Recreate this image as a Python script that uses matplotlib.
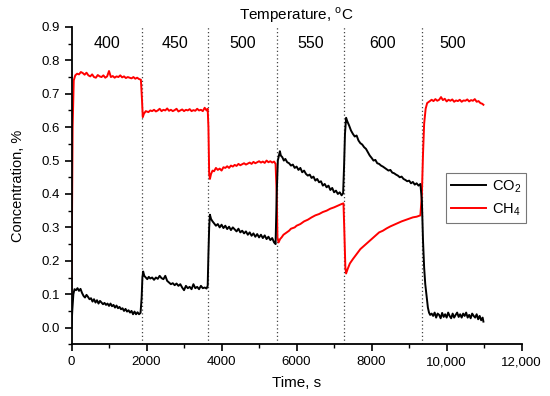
import matplotlib.pyplot as plt
from matplotlib.ticker import MultipleLocator, FixedLocator, FixedFormatter

plt.rcParams['font.family'] = ['Liberation Sans', 'DejaVu Sans']
plt.rcParams['mathtext.fontset'] = 'custom'
plt.rcParams['mathtext.rm'] = 'Liberation Sans'

# CH4 concentration, %
ch4_t = [0, 30, 60, 100, 150, 200, 250, 300, 350, 400, 450, 500, 550, 600, 650, 700, 750, 800, 850, 900,
         950, 1000, 1050, 1100, 1150, 1200, 1250, 1300, 1350, 1400, 1450, 1500, 1550, 1600, 1650, 1700,
         1750, 1800, 1850,
         1880, 1900, 1930, 1980, 2050, 2100, 2150, 2200, 2250, 2300, 2350, 2400, 2450, 2500, 2550, 2600,
         2650, 2700, 2750, 2800, 2850, 2900, 2950, 3000, 3050, 3100, 3150, 3200, 3250, 3300, 3350, 3400,
         3450, 3500, 3550, 3600, 3630,
         3650, 3670, 3690, 3720, 3760, 3800, 3850, 3900, 3950, 4000, 4050, 4100, 4150, 4200, 4250, 4300,
         4350, 4400, 4450, 4500, 4550, 4600, 4650, 4700, 4750, 4800, 4850, 4900, 4950, 5000, 5050, 5100,
         5150, 5200, 5250, 5300, 5350, 5400, 5440,
         5470, 5490, 5520, 5560, 5600, 5650, 5700, 5750, 5800, 5850, 5900, 5950, 6000, 6100, 6200, 6300,
         6400, 6500, 6600, 6700, 6800, 6900, 7000, 7100, 7200, 7250,
         7270, 7300, 7320, 7360, 7420, 7500, 7600, 7700, 7800, 7900, 8000, 8100, 8200, 8300, 8400, 8500,
         8600, 8700, 8800, 8900, 9000, 9100, 9200, 9300,
         9340, 9370, 9400, 9440, 9480, 9550, 9600, 9650, 9700, 9750, 9800, 9850, 9900, 9950, 10000, 10050,
         10100, 10150, 10200, 10250, 10300, 10350, 10400, 10450, 10500, 10550, 10600, 10650, 10700, 10750,
         10800, 10850, 10900, 10950, 10980]
ch4_c = [0.10, 0.60, 0.74, 0.755, 0.760, 0.758, 0.765, 0.762, 0.757, 0.763, 0.755, 0.752, 0.758, 0.750,
         0.748, 0.756, 0.752, 0.750, 0.755, 0.748, 0.752, 0.768, 0.750, 0.753, 0.748, 0.752, 0.750, 0.755,
         0.749, 0.752, 0.747, 0.750, 0.748, 0.746, 0.750, 0.745, 0.748, 0.744, 0.742,
         0.68, 0.630, 0.640, 0.648, 0.645, 0.650, 0.648, 0.652, 0.647, 0.650, 0.655, 0.648, 0.652, 0.650,
         0.656, 0.649, 0.652, 0.648, 0.651, 0.655, 0.647, 0.650, 0.653, 0.648, 0.652, 0.650, 0.654, 0.648,
         0.651, 0.649, 0.655, 0.650, 0.652, 0.648, 0.658, 0.650, 0.655,
         0.60, 0.46, 0.445, 0.460, 0.470, 0.468, 0.478, 0.472, 0.476, 0.470, 0.480, 0.478, 0.483, 0.478,
         0.485, 0.482, 0.487, 0.484, 0.490, 0.486, 0.489, 0.492, 0.488, 0.491, 0.494, 0.490, 0.496, 0.492,
         0.495, 0.498, 0.494, 0.497, 0.493, 0.500, 0.495, 0.498, 0.494, 0.497, 0.490,
         0.40, 0.27, 0.255, 0.265, 0.270, 0.278, 0.282, 0.286, 0.290, 0.296, 0.298, 0.300, 0.305, 0.310,
         0.318, 0.323, 0.330, 0.336, 0.340, 0.346, 0.350, 0.356, 0.360, 0.365, 0.370, 0.372,
         0.30, 0.18, 0.162, 0.175, 0.192, 0.205, 0.220, 0.235, 0.245, 0.255, 0.265, 0.275, 0.285, 0.290,
         0.297, 0.303, 0.308, 0.313, 0.318, 0.322, 0.326, 0.330, 0.332, 0.336,
         0.40, 0.52, 0.61, 0.655, 0.672, 0.678, 0.682, 0.678, 0.684, 0.679, 0.682, 0.690, 0.681, 0.685,
         0.677, 0.682, 0.679, 0.683, 0.676, 0.680, 0.678, 0.682, 0.676, 0.680, 0.679, 0.683, 0.677, 0.681,
         0.679, 0.684, 0.676, 0.678, 0.672, 0.670, 0.667]

# CO2 concentration, %
co2_t = [0, 20, 50, 80, 120, 160, 200, 240, 280, 320, 360, 400, 440, 480, 520, 560, 600, 640, 680, 720,
         760, 800, 840, 880, 920, 960, 1000, 1040, 1080, 1120, 1160, 1200, 1240, 1280, 1320, 1360, 1400,
         1440, 1480, 1520, 1560, 1600, 1640, 1680, 1720, 1760, 1800, 1840,
         1870, 1890, 1910, 1940, 1980, 2020, 2060, 2100, 2150, 2200, 2250, 2300, 2350, 2400, 2450, 2500,
         2550, 2600, 2650, 2700, 2750, 2800, 2850, 2900, 2950, 3000, 3050, 3100, 3150, 3200, 3250, 3300,
         3350, 3400, 3450, 3500, 3550, 3600, 3630,
         3650, 3670, 3690, 3720, 3760, 3800, 3850, 3900, 3950, 4000, 4050, 4100, 4150, 4200, 4250, 4300,
         4350, 4400, 4450, 4500, 4550, 4600, 4650, 4700, 4750, 4800, 4850, 4900, 4950, 5000, 5050, 5100,
         5150, 5200, 5250, 5300, 5350, 5400, 5440,
         5470, 5500, 5530, 5555, 5580, 5620, 5660, 5700, 5750, 5800, 5850, 5900, 5950, 6000, 6050, 6100,
         6150, 6200, 6250, 6300, 6350, 6400, 6450, 6500, 6550, 6600, 6650, 6700, 6750, 6800, 6850, 6900,
         6950, 7000, 7050, 7100, 7150, 7200, 7240,
         7265, 7290, 7320, 7350, 7400, 7450, 7500, 7550, 7600, 7650, 7700, 7750, 7800, 7850, 7900, 7950,
         8000, 8050, 8100, 8150, 8200, 8250, 8300, 8350, 8400, 8450, 8500, 8550, 8600, 8650, 8700, 8750,
         8800, 8850, 8900, 8950, 9000, 9050, 9100, 9150, 9200, 9250, 9300,
         9340, 9370, 9400, 9430, 9460, 9500, 9530, 9560, 9600, 9640, 9680, 9720, 9760, 9800, 9840, 9880,
         9920, 9960, 10000, 10040, 10080, 10120, 10160, 10200, 10240, 10280, 10320, 10360, 10400, 10440,
         10480, 10520, 10560, 10600, 10640, 10680, 10720, 10760, 10800, 10840, 10880, 10920, 10960, 10980]
co2_c = [0.0, 0.05, 0.10, 0.115, 0.112, 0.118, 0.110, 0.116, 0.104, 0.095, 0.090, 0.098, 0.092, 0.085,
         0.088, 0.078, 0.085, 0.075, 0.082, 0.072, 0.080, 0.075, 0.070, 0.074, 0.068, 0.072, 0.065, 0.072,
         0.064, 0.068, 0.060, 0.066, 0.058, 0.062, 0.055, 0.058, 0.050, 0.056, 0.048, 0.052, 0.045, 0.050,
         0.040, 0.048, 0.040, 0.046, 0.040, 0.044,
         0.09, 0.15, 0.168, 0.155, 0.150, 0.145, 0.152, 0.147, 0.150, 0.143, 0.150, 0.146, 0.155, 0.148,
         0.145, 0.155, 0.140, 0.135, 0.130, 0.133, 0.127, 0.132, 0.125, 0.130, 0.120, 0.112, 0.125, 0.118,
         0.122, 0.115, 0.130, 0.118, 0.122, 0.115, 0.125, 0.118, 0.120, 0.117, 0.125,
         0.22, 0.30, 0.338, 0.325, 0.318, 0.312, 0.305, 0.310, 0.300, 0.308, 0.298, 0.305, 0.295, 0.302,
         0.292, 0.300, 0.294, 0.288, 0.296, 0.285, 0.290, 0.282, 0.288, 0.278, 0.285, 0.275, 0.282, 0.272,
         0.280, 0.270, 0.278, 0.268, 0.276, 0.265, 0.272, 0.262, 0.268, 0.255, 0.250,
         0.40, 0.50, 0.515, 0.528, 0.515, 0.510, 0.500, 0.505, 0.495, 0.492, 0.485, 0.488, 0.478, 0.482,
         0.472, 0.478, 0.465, 0.470, 0.460, 0.455, 0.458, 0.448, 0.452, 0.440, 0.445, 0.435, 0.438, 0.425,
         0.430, 0.420, 0.425, 0.412, 0.418, 0.405, 0.410, 0.400, 0.405, 0.396, 0.402,
         0.48, 0.58, 0.628, 0.618, 0.605, 0.590, 0.580, 0.572, 0.575, 0.560, 0.552, 0.548, 0.540, 0.535,
         0.525, 0.515, 0.508, 0.500, 0.502, 0.492, 0.490, 0.485, 0.482, 0.478, 0.474, 0.470, 0.472, 0.464,
         0.462, 0.458, 0.455, 0.450, 0.452, 0.445, 0.442, 0.438, 0.440, 0.432, 0.436, 0.428, 0.432, 0.425,
         0.430,
         0.38, 0.26, 0.18, 0.13, 0.10, 0.06, 0.045, 0.038, 0.042, 0.035, 0.045, 0.030, 0.042, 0.038, 0.028,
         0.044, 0.032, 0.040, 0.030, 0.045, 0.035, 0.028, 0.042, 0.030, 0.038, 0.045, 0.032, 0.040, 0.030,
         0.042, 0.035, 0.045, 0.030, 0.038, 0.028, 0.042, 0.035, 0.030, 0.040, 0.025, 0.035, 0.022, 0.030,
         0.018]

# temperature program
switch_times = [1867, 3643, 5467, 7261, 9333]
end_time = 11000
temperatures = ['400', '450', '500', '550', '600', '500']

x_ticks = [0, 2000, 4000, 6000, 8000, 10000, 12000]
x_tick_labels = ['0', '2000', '4000', '6000', '8000', '10,000', '12,000']

fig = plt.figure(figsize=(5.5, 3.96), dpi=100)
ax = fig.add_axes([0.130, 0.1305, 0.8185, 0.8015])

for st in switch_times:
    ax.axvline(st, color='#444444', linestyle=(0, (1, 2)), linewidth=0.9, zorder=1)

ax.plot(co2_t, co2_c, color='black', linewidth=1.4, label='CO$_2$', zorder=3)
ax.plot(ch4_t, ch4_c, color='red', linewidth=1.4, label='CH$_4$', zorder=2)

bounds = [0] + switch_times + [end_time]
for i, temp in enumerate(temperatures):
    ax.text((bounds[i] + bounds[i + 1]) / 2, 0.85, temp, ha='center', va='center', fontsize=11.5)

ax.set_xlim(0, 12000)
ax.set_ylim(-0.05, 0.9)
ax.xaxis.set_major_locator(FixedLocator(x_ticks))
ax.xaxis.set_major_formatter(FixedFormatter(x_tick_labels))
ax.xaxis.set_minor_locator(MultipleLocator(1000))
ax.yaxis.set_minor_locator(MultipleLocator(0.05))
ax.set_yticks([0.0, 0.1, 0.2, 0.3, 0.4, 0.5, 0.6, 0.7, 0.8, 0.9])
ax.set_yticklabels(['0.0', '0.1', '0.2', '0.3', '0.4', '0.5', '0.6', '0.7', '0.8', '0.9'])

ax.spines['top'].set_visible(False)
ax.spines['right'].set_visible(False)
ax.spines['left'].set_linewidth(1.3)
ax.spines['bottom'].set_linewidth(1.3)
ax.tick_params(which='major', direction='out', length=5, width=1.2, labelsize=9.5)
ax.tick_params(which='minor', direction='out', length=3, width=1.0)

ax.set_xlabel('Time, s', fontsize=11, labelpad=6)
ax.set_ylabel('Concentration, %', fontsize=10.5, labelpad=12)
ax.set_title(r'Temperature, $^{\mathregular{o}}$C', fontsize=11, pad=5)

leg = ax.legend(loc='upper left', bbox_to_anchor=(0.832, 0.54), frameon=True, fancybox=False,
                edgecolor='#555555', fontsize=10.5, handlelength=2.4, handletextpad=0.4,
                borderpad=0.35, labelspacing=0.45, borderaxespad=0)
leg.get_frame().set_linewidth(0.8)

fig.savefig('out.png', dpi=100)
